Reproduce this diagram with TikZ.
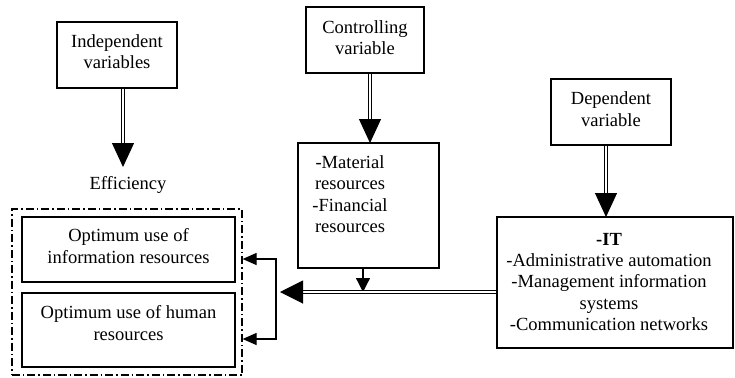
\documentclass[tikz,border=0pt]{standalone}
\usepackage{fontspec}
\setmainfont{Liberation Serif}
\usetikzlibrary{arrows.meta}
\begin{document}
\begin{tikzpicture}[x=1bp,y=-1bp,
  box/.style={draw,line width=1.2bp,inner sep=0pt},
  txt/.style={align=center,inner sep=0pt,font=\fontsize{18.6}{21.5}\selectfont},
  dbl/.style={double,line width=1bp,double distance=1.6bp},
  bigtip/.style={-{Triangle[width=22bp,length=24bp]}},
  midtip/.style={-{Triangle[width=14bp,length=14bp]}},
  smalltips/.style={{Triangle[width=12bp,length=14bp]}-{Triangle[width=12bp,length=14bp]}},
  dashdot/.style={draw,line width=1.2bp,dash pattern=on 8bp off 3bp on 1.5bp off 3bp,inner sep=0pt}
]
\useasboundingbox (0,0) rectangle (735,377);
% boxes
\node[box,minimum width=120bp,minimum height=66bp] (ind) at (117,55) {};
\node[txt] (indT) at (117,51.5) {Independent\\variables};
\node[box,minimum width=118bp,minimum height=66bp] (ctrl) at (365,40) {};
\node[txt] (ctrlT) at (365,37.5) {Controlling\\variable};
\node[box,minimum width=120bp,minimum height=66bp] (dep) at (611,112) {};
\node[txt] (depT) at (611,109) {Dependent\\variable};
\node[box,minimum width=141bp,minimum height=125bp] (mat) at (368.5,205.5) {};
\node[txt] (matT) at (350,194) {-Material\\resources\\-Financial\\resources};
\node[box,minimum width=236bp,minimum height=131bp] (it) at (615,282.5) {};
\node[txt] (itT) at (609,282) {\textbf{-IT}\\-Administrative automation\\-Management information\\systems\\-Communication networks};
\node[txt] (eff) at (128,185) {Efficiency};
\node[dashdot,minimum width=230bp,minimum height=166bp] (outer) at (127,292) {};
\node[box,minimum width=213bp,minimum height=65bp] (info) at (128.5,249.5) {};
\node[txt] (infoT) at (128.5,246) {Optimum use of\\information resources};
\node[box,minimum width=213bp,minimum height=74bp] (hum) at (128.5,330) {};
\node[txt] (humT) at (128.5,323) {Optimum use of human\\resources};
% coordinates
\coordinate (tipE) at (123,167);
\coordinate (tipM) at (370,143);
\coordinate (tipI) at (606,217);
\coordinate (j) at (363,292);
\coordinate (tipL) at (280,292);
\coordinate (brT) at (276,259);
\coordinate (brB) at (276,339);
% connectors
\draw[dbl,bigtip] (ind.south -| tipE) -- (tipE);
\draw[dbl,bigtip] (ctrl.south -| tipM) -- (tipM);
\draw[dbl,bigtip] (dep.south -| tipI) -- (tipI);
\draw[line width=1.2bp,midtip] (mat.south -| j) -- (j);
\draw[dbl,-{Triangle[width=23bp,length=23bp]}] (it.west |- tipL) -- (tipL);
\draw[line width=1.2bp,smalltips] (outer.east |- brT) -- (brT) -- (brB) -- (outer.east |- brB);
\end{tikzpicture}
\end{document}
